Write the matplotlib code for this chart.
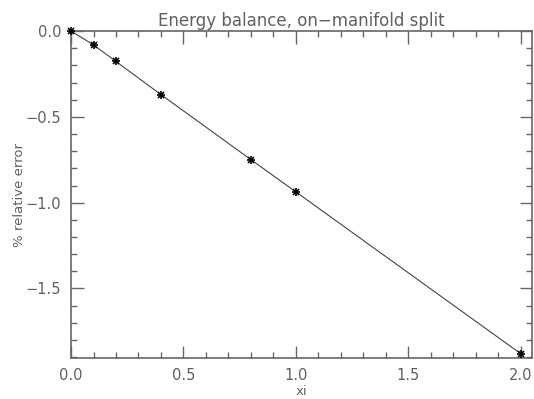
import numpy as np
import matplotlib
matplotlib.use("Agg")
import matplotlib.pyplot as plt
from matplotlib.ticker import MultipleLocator

# data
xi = [0.0, 0.1, 0.2, 0.4, 0.8, 1.0, 2.0]
rel_err = [0.0, -0.080, -0.177, -0.370, -0.749, -0.937, -1.88]

txt = "#606060"
ax_col = "#666666"

fig = plt.figure(figsize=(5.34, 3.99), dpi=100)
ax = fig.add_axes([0.133, 0.103, 0.863, 0.819])

ax.plot(xi, rel_err, color="#444444", linewidth=0.8)
ax.plot(xi, rel_err, linestyle="none", marker="x", color="black", markersize=5,
        markeredgewidth=1.2, clip_on=False, zorder=5)
ax.plot(xi, rel_err, linestyle="none", marker="+", color="black", markersize=6,
        markeredgewidth=1.2, clip_on=False, zorder=5)

ax.set_xlim(0, 2.05)
ax.set_ylim(-1.905, 0.0)
ax.xaxis.set_major_locator(MultipleLocator(0.5))
ax.xaxis.set_minor_locator(MultipleLocator(0.1))
ax.yaxis.set_major_locator(MultipleLocator(0.5))
ax.yaxis.set_minor_locator(MultipleLocator(0.1))
ax.xaxis.set_major_formatter(plt.FuncFormatter(lambda v, p: f"{v:.1f}".replace("-", "\u2212")))
ax.yaxis.set_major_formatter(plt.FuncFormatter(lambda v, p: f"{v:.1f}".replace("-", "\u2212")))

ax.tick_params(which="both", direction="in", top=True, right=True, colors=ax_col,
               labelcolor=txt, labelsize=10.5, width=1)
ax.tick_params(which="major", length=9, pad=7)
ax.tick_params(which="minor", length=4.5)
for s in ax.spines.values():
    s.set_color(ax_col)
    s.set_linewidth(1.2)

ax.set_xlabel("xi", color=txt, fontsize=9.5, labelpad=2)
ax.set_ylabel("% relative error", color=txt, fontsize=9.5)
ax.yaxis.set_label_coords(-0.097, 0.5)
ax.set_title("Energy balance, on\u2212manifold split", color=txt, fontsize=12, pad=4)

fig.savefig("out.png", dpi=100)
